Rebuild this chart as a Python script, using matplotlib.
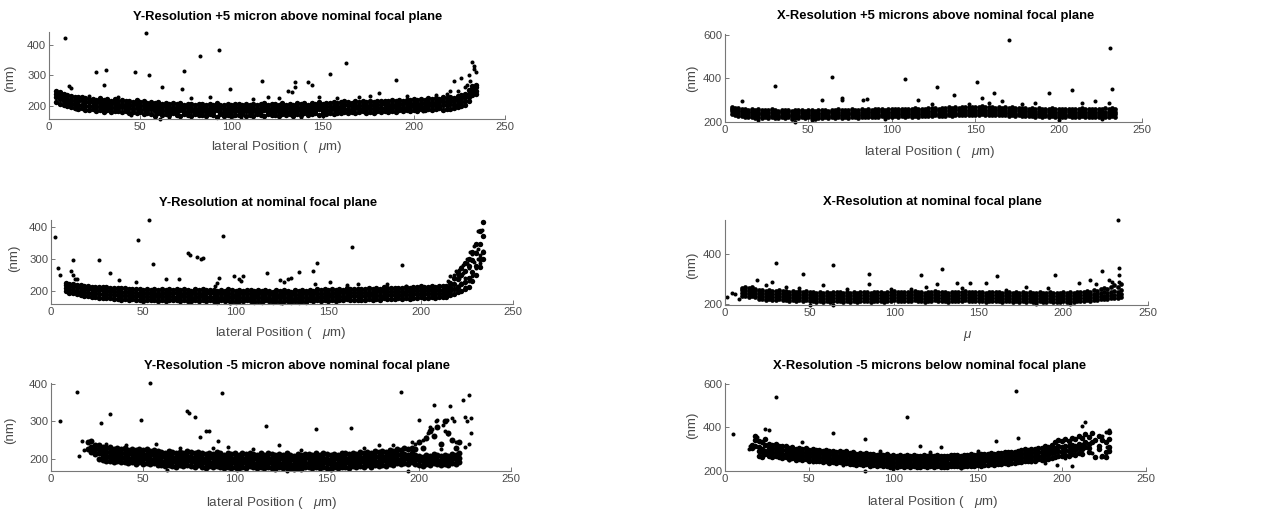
import matplotlib
matplotlib.use('Agg')
import matplotlib.pyplot as plt

plt.rcParams['font.family'] = ['Liberation Sans', 'DejaVu Sans']
plt.rcParams['mathtext.fontset'] = 'custom'
plt.rcParams['mathtext.it'] = 'Liberation Sans:italic'
plt.rcParams['mathtext.rm'] = 'Liberation Sans'

nan = float('nan')

# ---------------- panel 1: Y-Resolution +5 micron ----------------
p1_x = list(range(4, 236, 2))
p1_low = [214, 208, 203, 199, 196, 193, 190, 194, 188, 186,
          189, 184, 187, 182, 186, 181, 185, 183, 180, 184,
          178, 182, 176, 180, 175, 179, 174, 168, 177, 172,
          175, 170, 176, 172, 168, 174, 171, 167, 173, 170,
          172, 168, 174, 170, 166, 173, 169, 171, 167, 172,
          170, 174, 168, 172, 169, 175, 170, 167, 173, 171,
          172, 168, 174, 170, 175, 169, 173, 171, 176, 170,
          174, 177, 172, 176, 174, 178, 175, 179, 176, 180,
          178, 181, 177, 180, 183, 179, 182, 178, 184, 181,
          183, 180, 185, 182, 186, 184, 188, 183, 187, 185,
          189, 186, 191, 188, 190, 193, 187, 192, 189, 194,
          196, 200, 205, 215, 235, 240]
p1_midlow = [228, 222, 216, 212, 208, 206, 203, 205, 201, 199,
             200, 197, 201, 195, 199, 194, 198, 193, 196, 192,
             193, 190, 195, 188, 192, 186, 190, 185, 189, 184,
             188, 183, 187, 182, 186, 181, 185, 183, 180, 184,
             185, 181, 184, 180, 186, 182, 179, 184, 181, 185,
             183, 180, 185, 181, 184, 179, 183, 186, 180, 184,
             185, 181, 186, 182, 184, 180, 187, 183, 186, 182,
             187, 184, 189, 185, 188, 186, 190, 187, 189, 192,
             190, 188, 193, 189, 192, 190, 194, 191, 193, 195,
             194, 192, 196, 193, 197, 195, 198, 196, 199, 197,
             200, 198, 202, 199, 203, 201, 205, 202, 206, 204,
             208, 212, 216, 228, 245, 250]
p1_midhigh = [240, 234, 228, 224, 221, 218, 216, 219, 214, 212,
              212, 209, 213, 207, 211, 206, 210, 205, 208, 204,
              205, 202, 207, 200, 204, 198, 202, 197, 201, 196,
              199, 195, 198, 194, 197, 193, 196, 194, 192, 195,
              196, 192, 195, 191, 197, 193, 190, 195, 192, 196,
              194, 191, 196, 192, 195, 190, 194, 197, 191, 195,
              196, 192, 197, 193, 195, 191, 198, 194, 197, 193,
              198, 195, 200, 196, 199, 197, 201, 198, 200, 203,
              202, 199, 204, 200, 203, 201, 205, 202, 204, 206,
              206, 203, 207, 204, 208, 206, 209, 207, 210, 208,
              211, 209, 213, 210, 214, 212, 216, 213, 217, 215,
              220, 225, 228, 240, 255, 262]
p1_high = [250, 246, 240, 236, 232, 230, 228, 231, 226, 224,
           224, 221, 226, 219, 223, 218, 222, 217, 220, 216,
           217, 214, 219, 212, 216, 210, 214, 209, 213, 208,
           211, 207, 210, 206, 209, 205, 208, 206, 204, 207,
           208, 204, 207, 203, 209, 205, 202, 207, 204, 208,
           206, 203, 208, 204, 207, 202, 206, 209, 203, 207,
           208, 204, 209, 205, 207, 203, 210, 206, 209, 205,
           210, 207, 212, 208, 211, 209, 213, 210, 212, 215,
           214, 211, 216, 212, 215, 213, 217, 214, 216, 218,
           218, 215, 219, 216, 220, 218, 221, 219, 222, 220,
           223, 221, 225, 222, 226, 224, 228, 225, 229, 227,
           232, 236, 240, 252, 265, 270]
p1_out_x = [9, 53, 26, 30, 31, 47, 55, 62, 73, 74, 83, 93, 99, 117, 131, 133, 135, 135,
            142, 144, 154, 163, 190, 181, 222, 226, 230, 232, 233, 234, 233, 11, 12, 61, 101, 150,
            15, 22, 38, 45, 58, 66, 78, 88, 105, 112, 120, 126, 138, 148, 158, 170, 176, 196,
            205, 212, 218, 220, 224, 228, 229, 231]
p1_out_y = [423, 438, 310, 268, 316, 312, 300, 262, 255, 315, 363, 383, 255, 280, 250, 245, 278, 262,
            278, 268, 306, 340, 286, 242, 280, 292, 300, 343, 330, 310, 320, 265, 258, 158, 168, 168,
            190, 232, 228, 172, 165, 163, 226, 228, 165, 222, 230, 225, 166, 228, 226, 228, 232, 232,
            183, 236, 240, 250, 248, 262, 270, 280]

# ---------------- panel 2: X-Resolution +5 microns ----------------
p2_x = list(range(4, 236, 2))
p2_low = [238, 232, 228, 225, 222, 220, 224, 219, 223, 218,
          221, 217, 222, 218, 216, 220, 217, 221, 215, 219,
          217, 221, 216, 220, 218, 215, 219, 217, 221, 216,
          220, 217, 222, 218, 221, 219, 223, 220, 218, 222,
          221, 224, 220, 223, 222, 225, 221, 224, 222, 226,
          223, 226, 222, 225, 224, 227, 223, 226, 225, 228,
          226, 229, 225, 228, 227, 230, 228, 231, 229, 232,
          230, 233, 229, 232, 231, 234, 230, 233, 231, 229,
          232, 229, 231, 228, 230, 227, 229, 226, 228, 225,
          227, 224, 226, 223, 225, 222, 226, 223, 221, 224,
          222, 225, 221, 224, 222, 226, 223, 221, 224, 222,
          223, 221, 224, 222, 225, 223]
p2_midlow = [248, 244, 240, 236, 233, 231, 235, 230, 234, 229,
             232, 228, 233, 229, 227, 231, 228, 232, 226, 230,
             228, 232, 227, 231, 229, 226, 230, 228, 232, 227,
             231, 228, 233, 229, 232, 230, 234, 231, 229, 233,
             232, 235, 231, 234, 233, 236, 232, 235, 233, 237,
             234, 237, 233, 236, 235, 238, 234, 237, 236, 239,
             237, 240, 236, 239, 238, 241, 239, 242, 240, 243,
             241, 244, 240, 243, 242, 245, 241, 244, 242, 240,
             243, 240, 242, 239, 241, 238, 240, 237, 239, 236,
             238, 235, 237, 234, 236, 233, 237, 234, 232, 235,
             233, 236, 232, 235, 233, 237, 234, 232, 235, 233,
             234, 232, 235, 233, 236, 234]
p2_midhigh = [258, 255, 251, 248, 245, 243, 247, 242, 246, 241,
              244, 240, 245, 241, 239, 243, 240, 244, 238, 242,
              240, 244, 239, 243, 241, 238, 242, 240, 244, 239,
              243, 240, 245, 241, 244, 242, 246, 243, 241, 245,
              244, 247, 243, 246, 245, 248, 244, 247, 245, 249,
              246, 249, 245, 248, 247, 250, 246, 249, 248, 251,
              249, 252, 248, 251, 250, 253, 251, 254, 252, 255,
              253, 256, 252, 255, 254, 257, 253, 256, 254, 252,
              255, 252, 254, 251, 253, 250, 252, 249, 251, 248,
              250, 247, 249, 246, 248, 245, 249, 246, 244, 247,
              245, 248, 244, 247, 245, 249, 246, 244, 247, 245,
              246, 244, 247, 245, 248, 246]
p2_high = [266, 264, 262, 260, 258, 256, 259, 254, 258, 253,
           256, 252, 257, 253, 251, 255, 252, 256, 250, 254,
           252, 256, 251, 255, 253, 250, 254, 252, 256, 251,
           255, 252, 257, 253, 256, 254, 258, 255, 253, 257,
           256, 259, 255, 258, 257, 260, 256, 259, 257, 261,
           258, 261, 257, 260, 259, 262, 258, 261, 260, 263,
           262, 265, 261, 264, 263, 266, 264, 268, 265, 269,
           267, 270, 266, 269, 268, 271, 267, 270, 268, 265,
           268, 265, 267, 264, 266, 263, 265, 262, 264, 261,
           263, 260, 262, 259, 261, 258, 262, 259, 257, 260,
           258, 261, 257, 260, 258, 262, 259, 257, 260, 258,
           259, 257, 262, 258, 263, 260]
p2_out_x = [4, 10, 30, 58, 64, 70, 70, 83, 85, 108, 116, 127, 137, 151, 154, 161, 166, 194,
            208, 222, 231, 232, 170, 230, 214, 186, 42, 20, 52, 96, 124, 146, 158, 178, 200, 226]
p2_out_y = [260, 295, 365, 300, 405, 310, 300, 298, 305, 397, 298, 362, 325, 385, 310, 333, 295, 333,
            347, 295, 540, 350, 575, 285, 285, 285, 200, 208, 210, 212, 280, 282, 285, 282, 210, 212]

# ---------------- panel 3: Y-Resolution at nominal ----------------
p3_x = list(range(8, 236, 2))
p3_low = [198, 194, 192, 188, 185, 183, 182, 180, 181, 178,
          178, 176, 177, 174, 175, 172, 174, 171, 173, 170,
          171, 168, 172, 169, 170, 167, 171, 168, 172, 169,
          170, 167, 171, 168, 166, 170, 167, 171, 168, 169,
          168, 165, 169, 166, 170, 167, 164, 168, 166, 169,
          167, 164, 168, 165, 169, 166, 163, 167, 164, 168,
          166, 163, 167, 164, 168, 165, 169, 166, 170, 167,
          170, 167, 171, 168, 172, 169, 173, 170, 172, 171,
          172, 170, 174, 171, 175, 172, 176, 173, 175, 174,
          176, 173, 177, 175, 178, 176, 179, 177, 178, 180,
          178, 180, 179, 181, 185, 190, 195, 200, 205, 210,
          230, 250, 275, 300]
p3_midlow = [208, 205, 203, 200, 197, 195, 194, 192, 192, 190,
             189, 187, 188, 186, 186, 184, 185, 183, 184, 182,
             182, 180, 183, 181, 182, 179, 183, 180, 183, 181,
             181, 179, 182, 180, 178, 181, 179, 182, 180, 181,
             179, 177, 180, 178, 181, 179, 176, 180, 178, 181,
             178, 176, 179, 177, 180, 178, 175, 179, 176, 179,
             177, 175, 178, 176, 179, 177, 180, 178, 181, 179,
             181, 179, 182, 180, 183, 181, 184, 182, 183, 182,
             183, 182, 185, 183, 186, 184, 187, 185, 186, 186,
             187, 185, 188, 187, 189, 188, 190, 189, 189, 191,
             189, 191, 190, 192, 198, 205, 212, 220, 228, 240,
             258, 278, 300, 320]
p3_midhigh = [218, 215, 213, 210, 208, 206, 205, 204, 203, 202,
              201, 200, 199, 198, 197, 196, 196, 195, 195, 194,
              193, 192, 194, 191, 193, 190, 194, 191, 194, 192,
              193, 190, 194, 191, 189, 193, 190, 194, 191, 192,
              191, 188, 192, 189, 193, 190, 187, 191, 189, 192,
              190, 187, 191, 188, 192, 189, 186, 190, 187, 191,
              189, 186, 190, 187, 191, 188, 192, 189, 193, 190,
              193, 190, 194, 191, 195, 192, 196, 193, 195, 194,
              195, 193, 197, 194, 198, 195, 199, 196, 198, 197,
              198, 196, 200, 198, 201, 199, 202, 200, 201, 203,
              201, 203, 202, 204, 212, 222, 235, 248, 262, 278,
              295, 318, 345, 370]
p3_high = [225, 222, 220, 218, 216, 214, 213, 212, 212, 211,
           211, 210, 209, 208, 208, 207, 207, 206, 206, 205,
           204, 203, 205, 202, 204, 201, 205, 202, 205, 203,
           204, 201, 205, 202, 200, 204, 201, 205, 202, 203,
           202, 199, 203, 200, 204, 201, 198, 202, 200, 203,
           201, 198, 202, 199, 203, 200, 197, 201, 198, 202,
           200, 197, 201, 198, 202, 199, 203, 200, 204, 201,
           204, 201, 205, 202, 206, 203, 207, 204, 206, 205,
           206, 204, 208, 205, 209, 206, 210, 207, 209, 208,
           209, 207, 211, 209, 212, 210, 213, 211, 212, 214,
           212, 214, 213, 215, 225, 240, 255, 270, 285, 300,
           320, 345, 385, 415]
p3_out_x = [2, 4, 5, 12, 11, 12, 13, 14, 26, 32, 37, 46, 47, 53, 55, 62, 69, 74, 75, 79,
            81, 82, 89, 91, 90, 93, 99, 102, 104, 103, 117, 124, 126, 128, 130, 134, 142, 143,
            144, 151, 160, 163, 166, 190, 182, 192, 125, 97, 218, 221, 223, 225, 227, 229,
            231, 233, 226, 230,
            215, 216, 217, 218, 219, 220, 221, 222, 223, 224, 225, 226, 227, 228, 228, 229,
            230, 231, 231, 232, 232, 233, 234, 220, 222, 224, 226, 219, 221]
p3_out_y = [367, 270, 250, 297, 260, 250, 237, 237, 295, 255, 233, 228, 358, 420, 282, 237, 237, 318, 312, 305,
            298, 302, 215, 240, 225, 370, 245, 237, 245, 230, 255, 232, 228, 237, 240, 258, 262, 220,
            287, 228, 218, 337, 222, 280, 220, 215, 160, 162, 250, 265, 280, 300, 320, 340,
            385, 390, 240, 270,
            230, 245, 220, 235, 260, 250, 240, 275, 255, 240, 285, 270, 300, 315, 245, 290,
            320, 300, 330, 285, 310, 300, 325, 215, 225, 210, 230, 205, 200]

# ---------------- panel 4: X-Resolution at nominal ----------------
p4_x = list(range(10, 236, 2))
p4_low = [232, 234, 230, 233, 228, 222, 220, 218, 221, 217,
          216, 219, 215, 218, 214, 217, 213, 216, 212, 215,
          211, 214, 210, 213, 209, 212, 210, 214, 211, 213,
          210, 213, 209, 212, 210, 214, 211, 213, 209, 212,
          211, 214, 210, 213, 212, 215, 211, 214, 212, 213,
          212, 215, 211, 214, 210, 213, 212, 215, 211, 214,
          213, 210, 214, 211, 213, 212, 215, 211, 214, 212,
          211, 214, 210, 213, 211, 214, 212, 210, 213, 211,
          209, 212, 208, 211, 209, 212, 210, 208, 211, 209,
          208, 211, 207, 210, 208, 211, 209, 212, 210, 213,
          214, 212, 216, 214, 218, 216, 220, 222, 219, 224,
          226, 223, 228]
p4_midlow = [244, 246, 242, 245, 240, 234, 232, 230, 233, 229,
             228, 231, 227, 230, 226, 229, 225, 228, 224, 227,
             223, 226, 222, 225, 221, 224, 222, 226, 223, 225,
             222, 225, 221, 224, 222, 226, 223, 225, 221, 224,
             223, 226, 222, 225, 224, 227, 223, 226, 224, 225,
             224, 227, 223, 226, 222, 225, 224, 227, 223, 226,
             225, 222, 226, 223, 225, 224, 227, 223, 226, 224,
             223, 226, 222, 225, 223, 226, 224, 222, 225, 223,
             221, 224, 220, 223, 221, 224, 222, 220, 223, 221,
             220, 223, 219, 222, 220, 223, 221, 224, 222, 225,
             226, 224, 228, 226, 230, 228, 232, 234, 231, 236,
             238, 235, 240]
p4_midhigh = [256, 258, 254, 257, 252, 246, 244, 242, 245, 241,
              240, 243, 239, 242, 238, 241, 237, 240, 236, 239,
              235, 238, 234, 237, 233, 236, 234, 238, 235, 237,
              234, 237, 233, 236, 234, 238, 235, 237, 233, 236,
              235, 238, 234, 237, 236, 239, 235, 238, 236, 237,
              236, 239, 235, 238, 234, 237, 236, 239, 235, 238,
              237, 234, 238, 235, 237, 236, 239, 235, 238, 236,
              235, 238, 234, 237, 235, 238, 236, 234, 237, 235,
              233, 236, 232, 235, 233, 236, 234, 232, 235, 233,
              232, 235, 231, 234, 232, 235, 233, 236, 234, 237,
              238, 236, 240, 238, 242, 240, 245, 248, 244, 250,
              252, 248, 255]
p4_high = [266, 270, 266, 268, 262, 258, 256, 254, 257, 253,
           252, 255, 251, 254, 250, 253, 249, 252, 248, 251,
           247, 250, 246, 249, 245, 248, 246, 250, 247, 249,
           246, 249, 245, 248, 246, 250, 247, 249, 245, 248,
           247, 250, 246, 249, 248, 251, 247, 250, 248, 249,
           248, 251, 247, 250, 246, 249, 248, 251, 247, 250,
           249, 246, 250, 247, 249, 248, 251, 247, 250, 248,
           247, 250, 246, 249, 247, 250, 248, 246, 249, 247,
           245, 248, 244, 247, 245, 248, 246, 244, 247, 245,
           244, 247, 243, 246, 244, 247, 245, 248, 246, 249,
           250, 248, 253, 250, 256, 254, 260, 265, 262, 270,
           275, 268, 280]
p4_out_x = [1, 4, 6, 8, 30, 46, 64, 85, 85, 116, 125, 128, 137, 145, 154, 161, 178, 195,
            191, 209, 216, 223, 232, 233, 233, 233, 28, 19, 58, 119, 219, 50, 64, 227, 229,
            24, 36, 44, 72, 98, 110, 140, 166, 184, 204]
p4_out_y = [228, 245, 242, 222, 365, 322, 357, 320, 282, 315, 280, 340, 285, 285, 285, 313, 270, 318,
            266, 285, 295, 332, 535, 345, 315, 290, 287, 297, 275, 267, 280, 198, 197, 295, 290,
            275, 268, 265, 262, 260, 262, 264, 258, 200, 202]

# ---------------- panel 5: Y-Resolution -5 micron ----------------
p5_x = list(range(20, 224, 2))
p5_low = [225, 218, 212, 200, 196, 193, 195, 191, 194, 190,
          192, 188, 191, 187, 190, 186, 189, 185, 188, 184,
          183, 180, 184, 181, 179, 183, 180, 184, 181, 178,
          182, 179, 176, 180, 177, 181, 178, 175, 179, 176,
          178, 175, 179, 176, 180, 177, 174, 178, 175, 179,
          176, 173, 177, 174, 178, 175, 172, 176, 173, 177,
          177, 174, 178, 175, 179, 176, 173, 177, 174, 178,
          179, 176, 180, 177, 181, 178, 182, 179, 183, 180,
          184, 181, 186, 183, 188, 185, 189, 186, 190, 187,
          184, 181, 186, 183, 188, 185, 182, 187, 184, 189,
          186, 190]
p5_midlow = [nan, 232, 226, 214, 208, 205, 207, 203, 206, 202,
             204, 200, 203, 199, 202, 198, 201, 197, 200, 196,
             195, 192, 196, 193, 191, 195, 192, 196, 193, 190,
             194, 191, 188, 192, 189, 193, 190, 187, 191, 188,
             190, 187, 191, 188, 192, 189, 186, 190, 187, 191,
             188, 185, 189, 186, 190, 187, 184, 188, 185, 189,
             189, 186, 190, 187, 191, 188, 185, 189, 186, 190,
             191, 188, 192, 189, 193, 190, 194, 191, 195, 192,
             196, 193, 198, 195, 200, 197, 201, 198, 202, 199,
             196, 193, 198, 195, 200, 197, 194, 199, 196, 201,
             198, 202]
p5_midhigh = [245, nan, 238, 226, 220, 217, 219, 215, 218, 214,
              216, 212, 215, 211, 214, 210, 213, 209, 212, 208,
              207, 204, 208, 205, 203, 207, 204, 208, 205, 202,
              206, 203, 200, 204, 201, 205, 202, 199, 203, 200,
              202, 199, 203, 200, 204, 201, 198, 202, 199, 203,
              200, 197, 201, 198, 202, 199, 196, 200, 197, 201,
              201, 198, 202, 199, 203, 200, 197, 201, 198, 202,
              203, 200, 204, 201, 205, 202, 206, 203, 207, 204,
              208, 205, 210, 207, 212, 209, 213, 210, 214, 211,
              208, 205, 210, 207, 212, 209, 206, 211, 208, 213,
              210, 214]
p5_high = [nan, 248, nan, 238, 232, 229, 231, 227, 230, 226,
           228, 224, 227, 223, 226, 222, 225, 221, 224, 220,
           219, 216, 220, 217, 215, 219, 216, 220, 217, 214,
           218, 215, 212, 216, 213, 217, 214, 211, 215, 212,
           214, 211, 215, 212, 216, 213, 210, 214, 211, 215,
           212, 209, 213, 210, 214, 211, 208, 212, 209, 213,
           213, 210, 214, 211, 215, 212, 209, 213, 210, 214,
           215, 212, 216, 213, 217, 214, 218, 215, 220, 217,
           221, 218, 224, 220, 226, 222, 228, 225, 230, 227,
           245, 230, 255, 275, 262, 285, 240, 300, 270, 250,
           230, 245]
p5_out_x = [5, 14, 15, 17, 18, 27, 32, 49, 54, 74, 75, 78, 81, 84, 86, 91, 93, 96, 117, 124,
            144, 163, 190, 194, 200, 208, 210, 213, 215, 217, 218, 219, 205, 206, 207, 209, 204,
            202, 216, 214, 212, 224, 227, 228, 228, 226, 225, 227, 225, 220,
            30, 41, 57, 63, 70, 88, 101, 110, 128, 136, 152, 170, 178, 186, 196, 198]
p5_out_y = [300, 378, 208, 248, 222, 297, 320, 305, 403, 328, 323, 313, 258, 273, 273, 248, 375, 232, 288, 237,
            280, 283, 378, 167, 303, 343, 305, 290, 305, 340, 310, 300, 270, 285, 280, 300, 258,
            250, 265, 275, 225, 358, 372, 308, 268, 300, 232, 240, 313, 245,
            240, 238, 240, 170, 230, 228, 170, 226, 168, 224, 172, 228, 236, 238, 245, 240]

# ---------------- panel 6: X-Resolution -5 microns ----------------
p6_x = list(range(16, 230, 2))
p6_low = [305, nan, 270, 265, 275, 268, 262, 270, 265, 258,
          262, 255, 258, 250, 254, 248, 252, 245, 249, 243,
          246, 240, 244, 238, 242, 236, 240, 234, 238, 232,
          233, 228, 231, 226, 230, 224, 228, 222, 226, 221,
          224, 219, 223, 218, 222, 217, 221, 216, 220, 218,
          219, 222, 218, 221, 217, 220, 216, 219, 218, 221,
          220, 223, 219, 222, 221, 224, 222, 225, 224, 227,
          226, 229, 228, 231, 230, 234, 233, 237, 236, 240,
          240, 244, 243, 248, 246, 252, 250, 256, 254, 260,
          262, 268, 266, 272, 270, 276, 274, 280, 278, nan,
          285, nan, 265, nan, 270, 262, 290]
p6_midlow = [nan, 315, 290, 285, 292, 286, 280, 288, 283, 276,
             279, 272, 275, 268, 271, 266, 269, 263, 266, 261,
             263, 258, 261, 255, 259, 253, 257, 251, 255, 249,
             250, 245, 248, 243, 247, 241, 245, 239, 243, 238,
             241, 236, 240, 235, 239, 234, 238, 233, 237, 235,
             236, 239, 235, 238, 234, 237, 233, 236, 235, 238,
             237, 240, 236, 239, 238, 241, 239, 242, 241, 244,
             243, 246, 245, 248, 247, 251, 250, 254, 253, 257,
             258, 262, 261, 266, 264, 270, 268, 275, 272, 280,
             285, 292, 288, 296, 292, 300, 296, 305, 300, 310,
             305, 330, nan, 300, nan, 285, 310]
p6_midhigh = [320, 340, 310, 300, 318, 305, 298, 306, 300, 294,
              296, 289, 292, 285, 288, 283, 286, 280, 283, 278,
              280, 275, 278, 272, 276, 270, 274, 268, 272, 266,
              267, 262, 265, 260, 264, 258, 262, 256, 260, 255,
              258, 253, 257, 252, 256, 251, 255, 250, 254, 252,
              253, 256, 252, 255, 251, 254, 250, 253, 252, 255,
              254, 257, 253, 256, 255, 258, 256, 259, 258, 261,
              260, 263, 262, 265, 264, 268, 267, 271, 270, 274,
              276, 280, 279, 284, 282, 288, 286, 293, 290, 298,
              305, 312, 308, 316, 312, 320, 316, 325, 320, 330,
              325, nan, 340, 315, nan, 330, 345]
p6_high = [nan, 360, 335, 330, 345, 325, 318, 322, 316, 312,
           313, 306, 309, 302, 305, 300, 303, 297, 300, 295,
           297, 292, 295, 289, 293, 287, 291, 285, 289, 283,
           284, 279, 282, 277, 281, 275, 279, 273, 277, 272,
           275, 270, 274, 269, 273, 268, 272, 267, 271, 269,
           270, 273, 269, 272, 268, 271, 267, 270, 269, 272,
           271, 274, 270, 273, 272, 275, 273, 276, 275, 278,
           277, 280, 279, 282, 281, 285, 284, 288, 287, 291,
           294, 298, 297, 302, 300, 306, 304, 312, 308, 318,
           330, 340, 335, 345, 338, 350, 345, 360, 352, 370,
           355, 375, nan, 360, 340, nan, 380]
p6_out_x = [5, 30, 64, 83, 83, 108, 116, 128, 161, 173, 174, 223, 224, 226, 228, 227, 228, 206,
            197, 14, 15, 19, 24, 26, 214, 212,
            38, 46, 52, 70, 92, 100, 122, 140, 150, 182, 190, 202, 218]
p6_out_y = [370, 540, 375, 345, 200, 448, 312, 307, 338, 565, 350, 265, 360, 380, 388, 310, 298, 222,
            225, 300, 315, 355, 390, 385, 425, 405,
            250, 330, 240, 225, 290, 208, 285, 212, 290, 240, 235, 260, 280]

x_ticks = [0, 50, 100, 150, 200, 250]
xlabel_text = r'lateral Position (   $\mu$m)'

W, H = 1273, 514
fig = plt.figure(figsize=(W / 100, H / 100), dpi=100)
fig.patch.set_facecolor('white')

grey = '#4a4a4a'


def add_panel(box, band_x, band_layers, out_x, out_y, ylim, yticks,
              title, title_xy, xlabel, xlabel_xy, ylabel_xy, band_ms):
    left, right, top, bottom = box
    ax = fig.add_axes([left / W, 1 - bottom / H, (right - left) / W, (bottom - top) / H])
    for ys in band_layers:
        ax.plot(band_x, ys, 'o', color='k', ms=band_ms, mew=0, clip_on=False)
    ax.plot(out_x, out_y, 'o', color='k', ms=2.9, mew=0, clip_on=False)
    ax.set_xlim(0, 250)
    ax.set_ylim(*ylim)
    ax.set_xticks(x_ticks)
    ax.set_yticks(yticks)
    for s in ['top', 'right']:
        ax.spines[s].set_visible(False)
    for s in ['left', 'bottom']:
        ax.spines[s].set_color('#777777')
        ax.spines[s].set_linewidth(0.8)
    ax.tick_params(direction='in', length=3, width=0.7, color='#777777',
                   labelsize=8.2, labelcolor=grey, pad=2)
    ax.set_facecolor('none')
    fig.text(title_xy[0] / W, 1 - title_xy[1] / H, title, ha='center', va='center',
             fontsize=9.4, fontweight='bold', color='k')
    fig.text(xlabel_xy[0] / W, 1 - xlabel_xy[1] / H, xlabel, ha='center', va='center',
             fontsize=9.6, color=grey)
    fig.text(ylabel_xy[0] / W, 1 - ylabel_xy[1] / H, '(nm)', ha='center', va='center',
             rotation=90, fontsize=9.6, color=grey)
    return ax


add_panel((49, 505, 32, 119), p1_x, [p1_low, p1_midlow, p1_midhigh, p1_high], p1_out_x, p1_out_y,
          (158, 441), [200, 300, 400],
          'Y-Resolution +5 micron above nominal focal plane', (288, 17),
          xlabel_text, (277, 147), (10, 78), 3.9)

add_panel((725, 1142, 34, 122), p2_x, [p2_low, p2_midlow, p2_midhigh, p2_high], p2_out_x, p2_out_y,
          (199, 604), [200, 400, 600],
          'X-Resolution +5 microns above nominal focal plane', (936, 16),
          xlabel_text, (930, 152), (692, 78), 3.4)

add_panel((51, 513, 220, 304), p3_x, [p3_low, p3_midlow, p3_midhigh, p3_high], p3_out_x, p3_out_y,
          (158, 421), [200, 300, 400],
          'Y-Resolution at nominal focal plane', (268, 203),
          xlabel_text, (281, 333), (14, 258), 3.9)

add_panel((725, 1148, 220, 305), p4_x, [p4_low, p4_midlow, p4_midhigh, p4_high], p4_out_x, p4_out_y,
          (197, 535), [200, 400],
          'X-Resolution at nominal focal plane', (932, 202),
          r'$\mu$', (968, 336), (692, 265), 3.4)

add_panel((51, 511, 383, 471), p5_x, [p5_low, p5_midlow, p5_midhigh, p5_high], p5_out_x, p5_out_y,
          (167, 403), [200, 300, 400],
          'Y-Resolution -5 micron above nominal focal plane', (297, 366),
          xlabel_text, (272, 503), (10, 430), 4.3)

add_panel((725, 1146, 383, 471), p6_x, [p6_low, p6_midlow, p6_midhigh, p6_high], p6_out_x, p6_out_y,
          (199, 603), [200, 400, 600],
          'X-Resolution -5 microns below nominal focal plane', (930, 366),
          xlabel_text, (933, 502), (692, 425), 4.0)

fig.savefig('out.png', dpi=100)
